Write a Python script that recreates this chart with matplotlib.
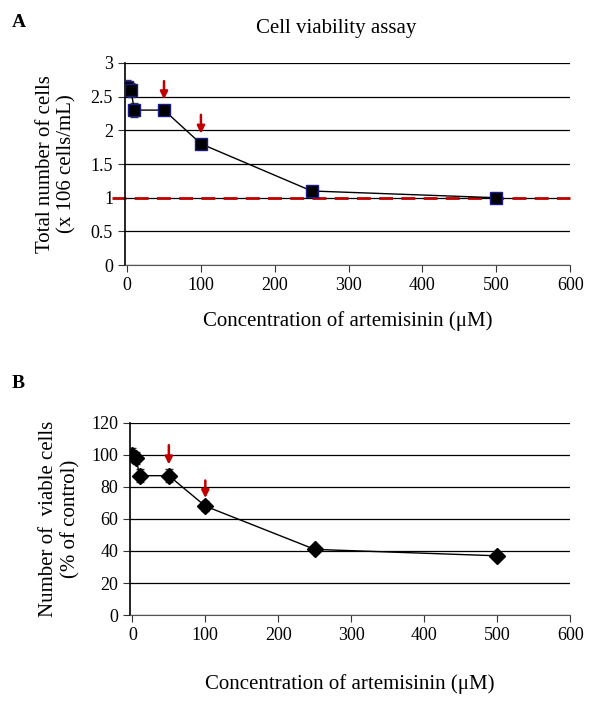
import numpy as np
import matplotlib
matplotlib.use("Agg")
import matplotlib.pyplot as plt

plt.rcParams['font.family'] = ['Liberation Serif', 'DejaVu Serif']

# Data
conc = [0, 5, 10, 50, 100, 250, 500]
cells_a = [2.65, 2.6, 2.3, 2.3, 1.8, 1.1, 1.0]
err_a = [0.1, 0.1, 0.1, 0.08, 0.07, 0.03, 0.03]
viable_b = [100, 98, 87, 87, 68, 41, 37]
err_b = [4, 4, 4, 4, 3, 1.5, 1.5]
arrow_x = [50, 100]
arrow_a = [(2.73, 2.46), (2.23, 1.95)]
arrow_b = [(106, 94), (84, 73)]

fig = plt.figure(figsize=(5.89, 7.07), dpi=100)
axA = fig.add_axes([0.212, 0.625, 0.756, 0.286])
axB = fig.add_axes([0.221, 0.130, 0.747, 0.272])


def style(ax):
    ax.spines['top'].set_visible(False)
    ax.spines['right'].set_visible(False)
    ax.spines['left'].set_linewidth(1.2)
    ax.spines['bottom'].set_linewidth(0.8)
    ax.spines['bottom'].set_color('#555555')
    ax.yaxis.grid(True, color='black', linewidth=0.9)
    ax.set_axisbelow(True)
    ax.set_xlim(-3, 600)
    ax.set_xticks([0, 100, 200, 300, 400, 500, 600])
    ax.tick_params(axis='both', labelsize=13, length=5, color='#333333')
    ax.tick_params(axis='y', direction='out')


def arrows(ax, spans):
    for x, (y0, y1) in zip(arrow_x, spans):
        ax.annotate('', xy=(x, y1), xytext=(x, y0),
                    arrowprops=dict(arrowstyle='-|>', color='#c00000', lw=1.8,
                                    mutation_scale=11, shrinkA=0, shrinkB=0))


# Panel A
style(axA)
axA.set_ylim(0, 3)
axA.set_yticks([0, 0.5, 1, 1.5, 2, 2.5, 3])
axA.set_yticklabels(['0', '0.5', '1', '1.5', '2', '2.5', '3'])
axA.axhline(1.0, xmin=-0.03, xmax=1, color='#c00000', linestyle=(0, (5, 3)),
            linewidth=2, clip_on=False, zorder=2)
axA.errorbar(conc, cells_a, yerr=err_a, color='black', linewidth=1,
             marker='s', markersize=8, markerfacecolor='black',
             markeredgecolor='#1a1a8c', markeredgewidth=1, capsize=3,
             ecolor='#333333', elinewidth=1, zorder=3)
arrows(axA, arrow_a)
axA.set_ylabel('Total number of cells\n(x 106 cells/mL)', fontsize=15, labelpad=10)
axA.set_xlabel('Concentration of artemisinin (\u03bcM)', fontsize=15, labelpad=12)
fig.text(0.57, 0.96, 'Cell viability assay', fontsize=15, ha='center', va='center')
fig.text(0.02, 0.968, 'A', fontsize=14, fontweight='bold', va='center')

# Panel B
style(axB)
axB.set_ylim(0, 120)
axB.set_yticks([0, 20, 40, 60, 80, 100, 120])
axB.errorbar(conc, viable_b, yerr=err_b, color='black', linewidth=1,
             marker='D', markersize=8, markerfacecolor='black',
             markeredgecolor='black', capsize=3, ecolor='#333333',
             elinewidth=1, zorder=3)
arrows(axB, arrow_b)
axB.set_ylabel('Number of  viable cells\n(% of control)', fontsize=15, labelpad=8)
axB.set_xlabel('Concentration of artemisinin (\u03bcM)', fontsize=15, labelpad=22)
fig.text(0.02, 0.458, 'B', fontsize=14, fontweight='bold', va='center')

fig.savefig('out.png', dpi=100)
